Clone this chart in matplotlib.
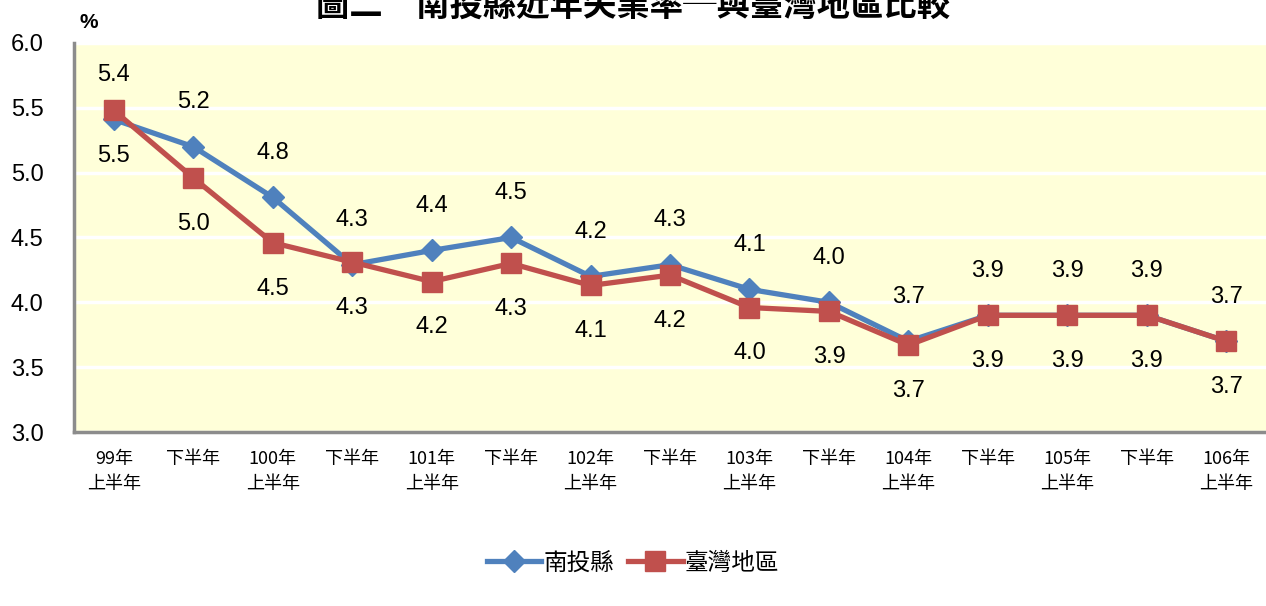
import matplotlib.pyplot as plt
import numpy as np

periods = ["99年\n上半年", "下半年", "100年\n上半年", "下半年", "101年\n上半年", "下半年",
           "102年\n上半年", "下半年", "103年\n上半年", "下半年", "104年\n上半年", "下半年",
           "105年\n上半年", "下半年", "106年\n上半年"]
nantou = [5.41, 5.20, 4.81, 4.29, 4.40, 4.50, 4.20, 4.29, 4.10, 4.00, 3.70, 3.90, 3.90, 3.90, 3.70]
taiwan = [5.48, 4.96, 4.46, 4.31, 4.16, 4.30, 4.13, 4.21, 3.96, 3.93, 3.67, 3.90, 3.90, 3.90, 3.70]

CJK = ['Noto Sans CJK TC', 'DejaVu Sans']
NUM = ['Liberation Sans', 'DejaVu Sans']
blue = '#4F81BD'
red = '#C0504D'

fig = plt.figure(figsize=(12.66, 6.06), dpi=100)
ax = fig.add_axes([0.0585, 0.2871, 0.9415, 0.642])
ax.set_facecolor('#FFFFD9')

x = np.arange(len(periods))
ax.plot(x, nantou, color=blue, lw=3.8, marker='D', ms=11, mec=blue, mfc=blue,
        label='南投縣', zorder=3)
ax.plot(x, taiwan, color=red, lw=3.8, marker='s', ms=14, mec=red, mfc=red,
        label='臺灣地區', zorder=4)

for xi, v in zip(x, nantou):
    ax.annotate(f'{v:.1f}', (xi, v), xytext=(0, 32), textcoords='offset points',
                ha='center', va='center', fontsize=17, family=NUM)
for xi, v in zip(x, taiwan):
    ax.annotate(f'{v:.1f}', (xi, v), xytext=(0, -33), textcoords='offset points',
                ha='center', va='center', fontsize=17, family=NUM)

ax.set_xlim(-0.5, len(periods) - 0.5)
ax.set_ylim(3.0, 6.0)
ax.set_yticks(np.arange(3.0, 6.01, 0.5))
ax.set_yticklabels([f'{t:.1f}' for t in np.arange(3.0, 6.01, 0.5)], family=NUM, fontsize=17)
ax.yaxis.grid(True, color='white', lw=2.5)
ax.set_axisbelow(True)
ax.set_xticks(x)
ax.set_xticklabels(periods, family=CJK, fontsize=13, linespacing=1.5)
ax.tick_params(axis='x', length=0, pad=13)
ax.tick_params(axis='y', length=0, pad=22)
for s in ['top', 'right']:
    ax.spines[s].set_visible(False)
for s in ['left', 'bottom']:
    ax.spines[s].set_color('#8C8C8C')
    ax.spines[s].set_linewidth(2.5)

fig.text(0.07, 1 - 22 / 606, '%', fontsize=15, fontweight='bold', family=NUM,
         ha='center', va='center')
fig.text(0.5, 1 - 17 / 606, '圖二　南投縣近年失業率─與臺灣地區比較', fontsize=24,
         fontweight='bold', family=CJK, ha='center', va='baseline')

fig.legend(loc='center', bbox_to_anchor=(0.5, 1 - 563 / 606), ncol=2, frameon=False,
           prop={'family': CJK, 'size': 17}, handlelength=2.3, handletextpad=0.1,
           columnspacing=0.6)

fig.savefig('out.png', dpi=100)
